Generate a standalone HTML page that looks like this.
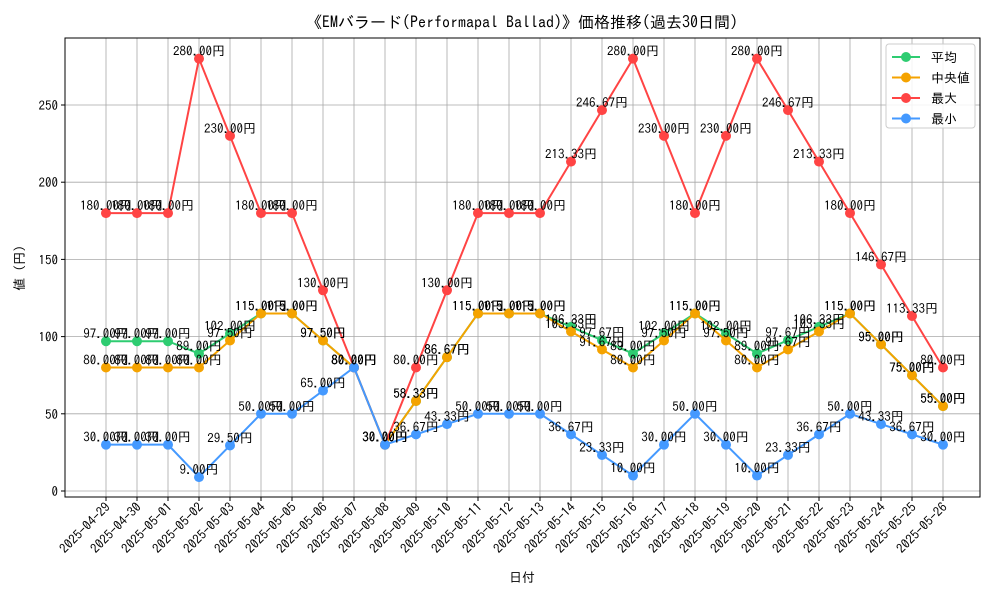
<!DOCTYPE html>
<html><head><meta charset="utf-8"><style>
body{margin:0;background:#fff}
svg text{font-family:"IPAGothic","Liberation Sans","Noto Sans CJK JP",sans-serif}
</style></head><body>
<svg id="chart" width="1000" height="600" xmlns="http://www.w3.org/2000/svg"></svg>
<script>
const dates=["2025-04-29","2025-04-30","2025-05-01","2025-05-02","2025-05-03","2025-05-04","2025-05-05","2025-05-06","2025-05-07","2025-05-08","2025-05-09","2025-05-10","2025-05-11","2025-05-12","2025-05-13","2025-05-14","2025-05-15","2025-05-16","2025-05-17","2025-05-18","2025-05-19","2025-05-20","2025-05-21","2025-05-22","2025-05-23","2025-05-24","2025-05-25","2025-05-26"];
const avgVals=[97,97,97,89,102,115,115,97.5,80,30,58.33,86.67,115,115,115,106.33,97.67,89,102,115,102,89,97.67,106.33,115,95,75,55];
const medVals=[80,80,80,80,97.5,115,115,97.5,80,30,58.33,86.67,115,115,115,103.33,91.67,80,97.5,115,97.5,80,91.67,103.33,115,95,75,55];
const maxVals=[180,180,180,280,230,180,180,130,80,30,80,130,180,180,180,213.33,246.67,280,230,180,230,280,246.67,213.33,180,146.67,113.33,80];
const minVals=[30,30,30,9,29.5,50,50,65,80,30,36.67,43.33,50,50,50,36.67,23.33,10,30,50,30,10,23.33,36.67,50,43.33,36.67,30];
const yTicks=[0,50,100,150,200,250];
const seriesNames=["平均","中央値","最大","最小"];

const svg=document.getElementById('chart');
const NS="http://www.w3.org/2000/svg";
const L=65,R=980,T=38,B=497;
const xs=i=>106+i*(943-106)/(dates.length-1);
const ys=v=>491-v*386/250;
function mk(tag,attrs,parent){const e=document.createElementNS(NS,tag);for(const k in attrs)e.setAttribute(k,attrs[k]);(parent||svg).appendChild(e);return e;}

dates.forEach((d,i)=>{
  const g=mk('line',{x1:xs(i),x2:xs(i),y1:T,y2:B,stroke:'#a8a8a8','stroke-width':0.8});
  
  
  mk('line',{x1:xs(i),x2:xs(i),y1:B,y2:B+4,stroke:'#000'});
  const t=mk('text',{x:0,y:0,'font-size':13,'text-anchor':'end',transform:`translate(${xs(i)+5},${B+11}) rotate(-45)`});
  t.textContent=d;
  
  
});
yTicks.forEach(v=>{
  const g=mk('line',{x1:L,x2:R,y1:ys(v),y2:ys(v),stroke:'#a8a8a8','stroke-width':0.8});
  
  
  mk('line',{x1:L-4,x2:L,y1:ys(v),y2:ys(v),stroke:'#000'});
  const t=mk('text',{x:L-7,y:ys(v)+5,'font-size':13,'text-anchor':'end'});
  t.textContent=v;
  
  
});
const frame=mk('rect',{x:L,y:T,width:R-L,height:B-T,fill:'none',stroke:'#000','stroke-width':1});



const series=[[avgVals,'#2ecc71','avg'],[medVals,'#f5a300','median'],[maxVals,'#ff4444','max'],[minVals,'#4499ff','min']];
series.forEach(([vals,col,nm])=>{
  const p=mk('polyline',{points:vals.map((v,i)=>xs(i)+','+ys(v)).join(' '),fill:'none',stroke:col,'stroke-width':2});
  
  
  vals.forEach((v,i)=>{
    const c=mk('circle',{cx:xs(i),cy:ys(v),r:5,fill:col});
    
    
  });
});
series.forEach(([vals,col,nm])=>{
  vals.forEach((v,i)=>{
    const t=mk('text',{x:xs(i),y:ys(v)-3,'font-size':13,'text-anchor':'middle',fill:'#000'});
    t.textContent=v.toFixed(2)+'円';
    
    
  });
});

const title=mk('text',{x:522,y:28,'font-size':16,'text-anchor':'middle'});
title.textContent='《EMバラード(Performapal Ballad)》価格推移(過去30日間)';


const yl=mk('text',{x:0,y:0,'font-size':13,'text-anchor':'middle',transform:'translate(24,268) rotate(-90)'});
yl.textContent='値 (円)';


const xl=mk('text',{x:522,y:582,'font-size':13,'text-anchor':'middle'});
xl.textContent='日付';



const lg=mk('g',{});


mk('rect',{x:886,y:44,width:89,height:84,fill:'#fff','fill-opacity':0.85,stroke:'#ccc',rx:3},lg);
series.forEach(([vals,col,nm],k)=>{
  const y=57+k*20.5;
  const e=mk('g',{},lg);
  
  
  mk('line',{x1:892,x2:920,y1:y,y2:y,stroke:col,'stroke-width':2},e);
  mk('circle',{cx:906,cy:y,r:5,fill:col},e);
  const t=mk('text',{x:931,y:y+5,'font-size':13},e);
  t.textContent=seriesNames[k];
});
</script>
</body></html>
